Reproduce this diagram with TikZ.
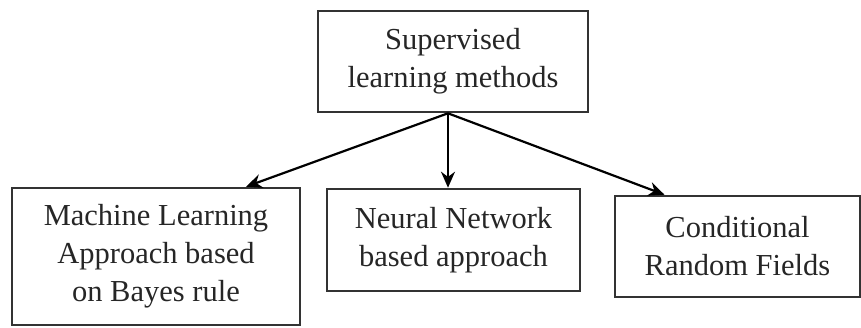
\documentclass[tikz,border=0pt]{standalone}
\usepackage{fontspec}
\setmainfont{Liberation Serif}
\usetikzlibrary{arrows.meta}
\definecolor{ink}{HTML}{262626}
\definecolor{frame}{HTML}{333333}
\begin{document}
\begin{tikzpicture}[x=1pt,y=-1pt,
  box/.style={draw=frame, line width=2.6pt, fill=white, text=ink,
    align=center, inner sep=0pt,
    font=\fontsize{30.5}{38}\selectfont},
  link/.style={draw=black, line width=2.2pt,
    -{Stealth[length=16pt,width=14pt]}}]
  \useasboundingbox (0,0) rectangle (861,327);
  % root of the hierarchy
  \node[box, minimum width=270pt, minimum height=101pt] (top) at (453,61.5)
    {Supervised\\learning methods};
  % the three families of methods
  \node[box, minimum width=288pt, minimum height=137pt] (bayes) at (156,256.5)
    {Machine Learning\\Approach based\\on Bayes rule};
  \node[box, minimum width=253pt, minimum height=102pt] (nn) at (453.5,240)
    {Neural Network\\based approach};
  \node[box, minimum width=245pt, minimum height=101pt] (crf) at (737.5,246.5)
    {Conditional\\Random Fields};
  % common starting point of the connectors
  \coordinate (src) at ([xshift=-5pt]top.south);
  \draw[link] (src) -- ([xshift=90pt]bayes.north);
  \draw[link] (src) -- ([xshift=-5.5pt]nn.north);
  \draw[link] (src) -- ([xshift=-73pt]crf.north);
\end{tikzpicture}
\end{document}
